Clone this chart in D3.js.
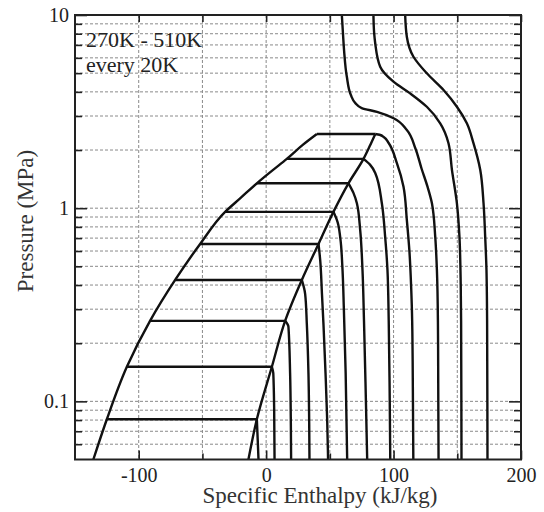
<!DOCTYPE html>
<html>
<head>
<meta charset="utf-8">
<script src="https://cdn.jsdelivr.net/npm/d3@7"></script>
<style>
  html, body { margin: 0; padding: 0; background: #fff; }
  svg { display: block; font-family: "Liberation Serif", "Times New Roman", serif; }
</style>
</head>
<body>
<svg id="chart" width="544" height="512"></svg>
<script>
// === Data ===
// two-phase isotherms 290K..450K : saturation pressure (MPa), liquid & vapour enthalpy (kJ/kg)
const satTemps = [290, 310, 330, 350, 370, 390, 410, 430, 450];
const satP     = [0.0808, 0.151, 0.261, 0.425, 0.653, 0.957, 1.345, 1.80, 2.42];
const satLiqH  = [-125.0, -109.3, -91.1, -71.4, -51.8, -32.2, -7.3, 16.2, 39.8];
const satVapH  = [-7.3, 4.5, 14.9, 28.0, 41.1, 52.8, 64.6, 76.4, 85.6];

// saturation dome, [h, p] from top down
const domeLiq = [[39.8, 2.42], [28.5, 2.12], [16.2, 1.80], [4.5, 1.56], [-7.3, 1.345], [-20, 1.13], [-32.2, 0.957],
  [-51.8, 0.653], [-71.4, 0.425], [-91.1, 0.261], [-109.3, 0.151], [-125.0, 0.0808], [-135.6, 0.05]];
const domeVap = [[85.6, 2.42], [81.2, 2.09], [76.4, 1.80], [64.6, 1.345], [52.8, 0.957], [41.1, 0.653],
  [28.0, 0.425], [14.9, 0.261], [4.5, 0.151], [-7.3, 0.0808], [-13.9, 0.05]];

// vapour branches of the two-phase isotherms, [h, p]
const vap290 = [[-7.3, 0.0808], [-6.6, 0.063], [-6.0, 0.05]];
const vap310 = [[4.5, 0.151], [5.6, 0.14], [6.3, 0.09], [6.6, 0.05]];
const vap330 = [[14.9, 0.261], [17.5, 0.243], [18.8, 0.14], [19.4, 0.075], [19.6, 0.05]];
const vap350 = [[28.0, 0.425], [30.6, 0.36], [31.9, 0.254], [33.2, 0.14], [33.8, 0.075], [34.0, 0.05]];
const vap370 = [[41.1, 0.653], [42.4, 0.54], [43.8, 0.36], [45.0, 0.25], [46.6, 0.14], [47.9, 0.08], [48.6, 0.05]];
const vap390 = [[52.8, 0.957], [56.0, 0.85], [58.2, 0.70], [59.8, 0.50], [61.0, 0.30], [62.4, 0.14], [63.6, 0.05]];
const vap410 = [[64.6, 1.345], [68.5, 1.20], [71.2, 1.06], [73.8, 0.77], [75.6, 0.48], [76.8, 0.26], [78.3, 0.10], [79.3, 0.05]];
const vap430 = [[76.4, 1.80], [81.5, 1.68], [85.6, 1.52], [90.8, 1.06], [93.4, 0.71], [95.2, 0.48], [96.2, 0.26], [97.0, 0.10], [97.4, 0.05]];
const vap450 = [[85.6, 2.42], [89.0, 2.40], [92.5, 2.33], [96.0, 2.18], [102.6, 1.71], [107.8, 1.29], [110.4, 0.87],
  [112.5, 0.59], [113.8, 0.39], [114.6, 0.26], [115.2, 0.10], [115.5, 0.05]];

// supercritical isotherms, [h, p]
const sc470 = [[59.4, 10], [60.3, 8], [61.2, 6.5], [63.3, 4.8], [66.5, 3.85], [70, 3.5], [75, 3.3], [87, 3.15],
  [100, 2.92], [110.4, 2.54], [117, 2.05], [122, 1.6], [126.5, 1.3], [130.1, 1.06], [132.7, 0.71], [134, 0.48],
  [134.8, 0.26], [135.1, 0.10], [135.3, 0.05]];
const sc490 = [[84.2, 10], [84.8, 8], [85.6, 7.14], [89.5, 5.40], [99.9, 4.52], [113.0, 3.93], [126.1, 3.35],
  [136.6, 2.75], [143.1, 2.17], [145.8, 1.58], [149.7, 1.06], [151.7, 0.71], [152.7, 0.40], [153.0, 0.26],
  [153.2, 0.10], [153.3, 0.05]];
const sc510 = [[109.1, 10], [110.4, 7.72], [115.6, 6.08], [126.1, 4.99], [139.2, 4.09], [149.7, 3.35], [157.5, 2.75],
  [162.7, 2.17], [168.0, 1.58], [170.6, 1.06], [171.9, 0.71], [172.9, 0.48], [173.4, 0.26], [173.6, 0.10], [173.7, 0.05]];

const vapBranches = [vap290, vap310, vap330, vap350, vap370, vap390, vap410, vap430, vap450];
const superCurves = [sc470, sc490, sc510];

// axes
const xDomain = [-150, 200];
const yDomain = [0.05, 10];
const xMajor = [-100, 0, 100, 200];
const xMinor = [-50, 50, 150];
const yMajor = [0.1, 1, 10];
const yMinor = [0.06, 0.07, 0.08, 0.09, 0.2, 0.3, 0.4, 0.5, 0.6, 0.7, 0.8, 0.9, 2, 3, 4, 5, 6, 7, 8, 9];
const xLabel = "Specific Enthalpy (kJ/kg)";
const yLabel = "Pressure (MPa)";
const legendLines = ["270K - 510K", "every 20K"];

// === Chart ===
const svg = d3.select("#chart");
const margin = { top: 15, right: 23, bottom: 52.5, left: 75 };
const innerWidth = +svg.attr("width") - margin.left - margin.right;
const innerHeight = +svg.attr("height") - margin.top - margin.bottom;

const g = svg.append("g").attr("transform", `translate(${margin.left},${margin.top})`);

const x = d3.scaleLinear().domain(xDomain).range([0, innerWidth]);
const y = d3.scaleLog().domain(yDomain).range([innerHeight, 0]);

svg.append("defs").append("clipPath").attr("id", "clip")
  .append("rect").attr("width", innerWidth).attr("height", innerHeight);

// grid
const grid = g.append("g").attr("stroke", "#8a8a8a").attr("stroke-width", 1).attr("stroke-dasharray", "3,2");
grid.selectAll("line.h")
  .data(yMinor.concat(yMajor).filter(d => d > yDomain[0] && d < yDomain[1]))
  .join("line")
  .attr("x1", 0).attr("x2", innerWidth)
  .attr("y1", d => y(d)).attr("y2", d => y(d));
grid.selectAll("line.v")
  .data(xMajor.concat(xMinor).filter(d => d > xDomain[0] && d < xDomain[1]))
  .join("line")
  .attr("y1", 0).attr("y2", innerHeight)
  .attr("x1", d => x(d)).attr("x2", d => x(d));

// curves
const plot = g.append("g").attr("clip-path", "url(#clip)")
  .attr("fill", "none").attr("stroke", "#111").attr("stroke-width", 2.4)
  .attr("stroke-linejoin", "round");

const line = d3.line()
  .x(d => x(d[0]))
  .y(d => y(d[1]))
  .curve(d3.curveMonotoneY);

plot.append("path").datum(domeLiq).attr("d", line);
plot.append("path").datum(domeVap).attr("d", line);

plot.selectAll("line.tie")
  .data(satTemps)
  .join("line")
  .attr("x1", (d, i) => x(satLiqH[i]))
  .attr("x2", (d, i) => x(satVapH[i]))
  .attr("y1", (d, i) => y(satP[i]))
  .attr("y2", (d, i) => y(satP[i]));

vapBranches.forEach(b => plot.append("path").datum(b).attr("d", line));
superCurves.forEach(c => plot.append("path").datum(c).attr("d", line));

// axes (ticks inward)
const axisStyle = sel => {
  sel.select(".domain").remove();
  sel.selectAll("line").attr("stroke", "#222").attr("stroke-width", 1.6);
  sel.selectAll("text").filter(function () { return !this.textContent; }).remove();
  sel.selectAll("text").attr("font-family", "Liberation Serif, Times New Roman, serif")
    .attr("font-size", 20).attr("fill", "#222");
};

g.append("g").attr("transform", `translate(0,${innerHeight})`)
  .call(d3.axisBottom(x).tickValues(xMajor).tickSize(-9).tickPadding(8).tickFormat(d => String(d)))
  .call(axisStyle);
g.append("g").attr("transform", `translate(0,${innerHeight})`)
  .call(d3.axisBottom(x).tickValues(xMinor).tickSize(-6).tickFormat(""))
  .call(axisStyle);
g.append("g")
  .call(d3.axisTop(x).tickValues(xMajor.concat(xMinor)).tickSize(-7).tickFormat(""))
  .call(axisStyle);

g.append("g")
  .call(d3.axisLeft(y).tickValues(yMajor).tickSize(-12).tickPadding(6).tickFormat(d => String(d)))
  .call(axisStyle);
g.append("g")
  .call(d3.axisLeft(y).tickValues(yMinor).tickSize(-7).tickFormat(""))
  .call(axisStyle);
g.append("g").attr("transform", `translate(${innerWidth},0)`)
  .call(d3.axisRight(y).tickValues(yMajor).tickSize(-12).tickFormat(""))
  .call(axisStyle);
g.append("g").attr("transform", `translate(${innerWidth},0)`)
  .call(d3.axisRight(y).tickValues(yMinor).tickSize(-7).tickFormat(""))
  .call(axisStyle);

// frame
g.append("rect")
  .attr("width", innerWidth).attr("height", innerHeight)
  .attr("fill", "none").attr("stroke", "#222").attr("stroke-width", 2);

// axis titles
svg.append("text")
  .attr("x", 320).attr("y", 503)
  .attr("text-anchor", "middle").attr("font-size", 23).attr("fill", "#333")
  .text(xLabel);
svg.append("text")
  .attr("transform", "translate(33,221) rotate(-90)")
  .attr("text-anchor", "middle").attr("font-size", 23).attr("fill", "#333")
  .text(yLabel);

// legend note
g.selectAll("text.note")
  .data(legendLines)
  .join("text")
  .attr("class", "note")
  .attr("x", 11)
  .attr("y", (d, i) => 32 + i * 25)
  .attr("font-size", 22).attr("fill", "#222")
  .text(d => d);
</script>
</body>
</html>
